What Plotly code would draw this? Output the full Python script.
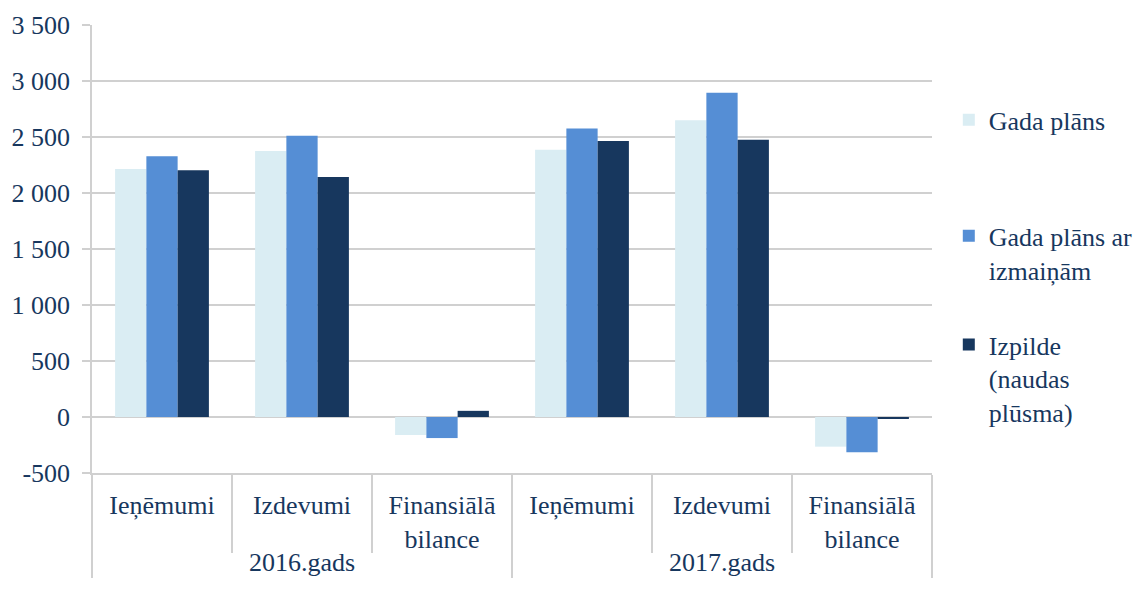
import plotly.graph_objects as go

years = ["2016.gads"] * 3 + ["2017.gads"] * 3
categories = ["Ieņēmumi", "Izdevumi", "Finansiālā<br>bilance"] * 2

gada_plans = [2214, 2375, -161, 2387, 2649, -265]
gada_plans_izm = [2328, 2512, -188, 2577, 2896, -315]
izpilde = [2203, 2143, 55, 2464, 2476, -12]

series_names = ["Gada plāns", "Gada plāns ar<br>izmaiņām", "Izpilde<br>(naudas<br>plūsma)"]
series_colors = ["#DAEDF3", "#558ED5", "#17375E"]

y_tickvals = [-500, 0, 500, 1000, 1500, 2000, 2500, 3000, 3500]
y_ticktext = ["-500", "0", "500", "1 000", "1 500", "2 000", "2 500", "3 000", "3 500"]

text_color = "#17375E"
grid_color = "#D0D0D0"
font_family = "Liberation Serif"
fs = 26

fig = go.Figure()
legend_ids = ["legend", "legend2", "legend3"]
for name, vals, col, lg in zip(series_names, [gada_plans, gada_plans_izm, izpilde], series_colors, legend_ids):
    fig.add_trace(go.Bar(x=[years, categories], y=vals, name=name, showlegend=True,
                         marker=dict(color=col, line=dict(width=0)), legend=lg))

legend_common = dict(font=dict(family=font_family, size=fs, color=text_color),
                     bgcolor="rgba(0,0,0,0)", xanchor="left", yanchor="top",
                     valign="top", itemwidth=30, visible=True)
fig.update_layout(
    width=1160, height=596, showlegend=True,
    margin=dict(l=84, r=236, t=17, b=131, autoexpand=False),
    paper_bgcolor="white", plot_bgcolor="white",
    font=dict(family=font_family, size=fs, color=text_color),
    barmode="group", bargap=0.33, bargroupgap=0,
    legend=dict(x=1.02, y=0.841, **legend_common),
    legend2=dict(x=1.02, y=0.582, **legend_common),
    legend3=dict(x=1.02, y=0.339, **legend_common),
    xaxis=dict(type="multicategory", showline=True, linecolor=grid_color, linewidth=1.5,
               ticks="outside", tickson="boundaries", ticklen=78, tickcolor=grid_color,
               tickwidth=1.5, showdividers=True, dividercolor=grid_color, dividerwidth=1.5,
               automargin=False, ticklabelstandoff=8,
               tickfont=dict(family=font_family, size=fs, color=text_color), showgrid=False),
    yaxis=dict(range=[-500, 3500], tickvals=y_tickvals, ticktext=y_ticktext,
               showgrid=True, gridcolor=grid_color, gridwidth=1.5, automargin=False,
               zeroline=True, zerolinecolor=grid_color, zerolinewidth=1.5,
               showline=True, linecolor=grid_color, linewidth=1.5,
               ticks="outside", ticklen=8, tickcolor=grid_color, tickwidth=1.5,
               ticklabelstandoff=7,
               tickfont=dict(family=font_family, size=fs, color=text_color)),
)

fig.write_html("out.html")
